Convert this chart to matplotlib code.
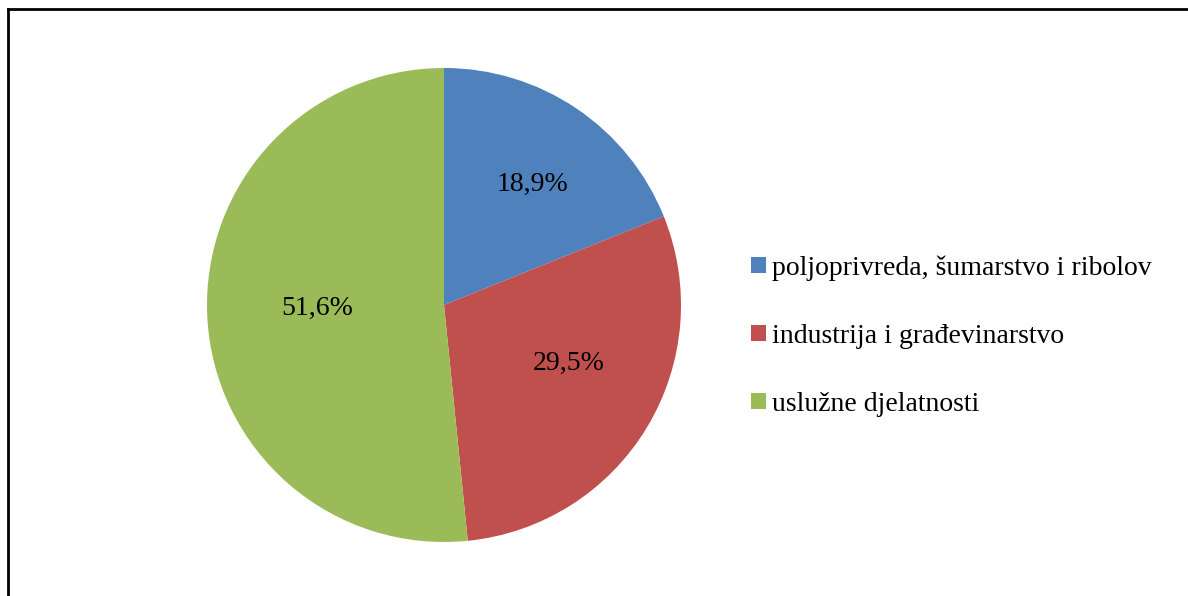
import matplotlib
matplotlib.use("Agg")
import matplotlib.pyplot as plt
import matplotlib.transforms as mtransforms
import numpy as np
from matplotlib.lines import Line2D
from matplotlib.patches import Patch

categories = ["poljoprivreda, šumarstvo i ribolov", "industrija i građevinarstvo", "uslužne djelatnosti"]
values = [18.9, 29.5, 51.6]
labels = ["18,9%", "29,5%", "51,6%"]
colors = ["#4F81BD", "#C0504D", "#9BBB59"]
# label placement (fraction of radius, angle shift in degrees from wedge middle)
label_dist = [0.645, 0.577, 0.536]
label_shift = [-1.5, 7.4, -2.9]

plt.rcParams['font.family'] = ['Liberation Serif', 'DejaVu Serif']

W, H = 1188, 596
fig = plt.figure(figsize=(W / 100, H / 100), dpi=100)

cx, cy, r = 444, 305, 237
ax = fig.add_axes([(cx - r) / W, (H - cy - r) / H, 2 * r / W, 2 * r / H])
wedges, _ = ax.pie(values, colors=colors, startangle=90, counterclock=False,
                   radius=1.0, center=(0, 0), wedgeprops=dict(linewidth=0))
ax.set_xlim(-1, 1)
ax.set_ylim(-1, 1)
ax.set_aspect('equal')
ax.axis('off')

txt_tr = mtransforms.offset_copy(ax.transData, fig=fig, x=0, y=-3.5, units='dots')
for w, lab, d, s in zip(wedges, labels, label_dist, label_shift):
    ang = np.deg2rad((w.theta1 + w.theta2) / 2 + s)
    ax.text(d * np.cos(ang), d * np.sin(ang), lab, ha='center', va='center',
            fontsize=20, transform=txt_tr)

handles = [Patch(facecolor=c, edgecolor='none') for c in colors]
fig.legend(handles, categories, loc='center left', bbox_to_anchor=(751 / W, 1 - 336 / H),
           frameon=False, fontsize=20, handlelength=0.54, handleheight=0.54,
           handletextpad=0.22, labelspacing=1.55, borderaxespad=0, borderpad=0)

# border (partially cropped in the reference)
fig.add_artist(Line2D([7.5 / W, 1], [1 - 9 / H, 1 - 9 / H], transform=fig.transFigure, color='black', lw=2))
fig.add_artist(Line2D([7.5 / W, 7.5 / W], [0, 1 - 9 / H], transform=fig.transFigure, color='black', lw=2))

fig.savefig("out.png", dpi=100)
